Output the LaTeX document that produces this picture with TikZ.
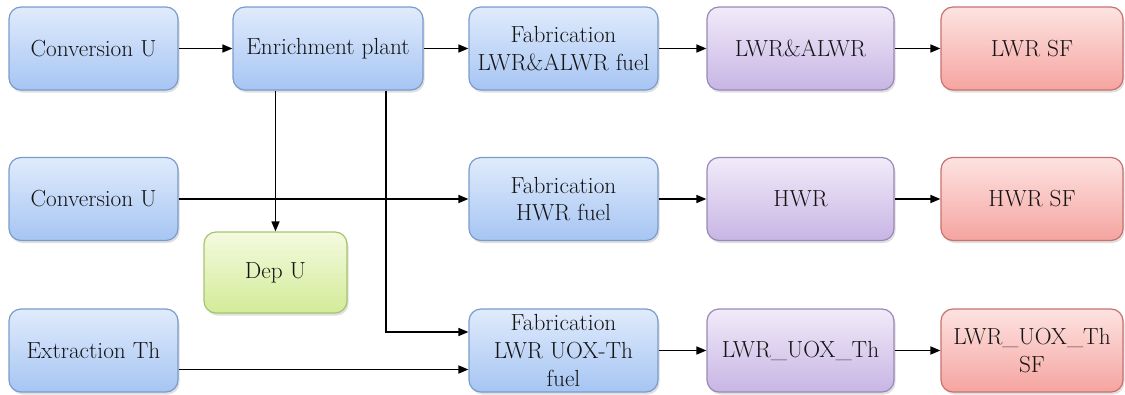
\documentclass[tikz,border=0pt]{standalone}
\usetikzlibrary{arrows.meta,shadows,calc}
\definecolor{txt}{HTML}{141414}
\definecolor{bluetop}{HTML}{E0EBFC}
\definecolor{bluebot}{HTML}{A6C5F3}
\definecolor{blueline}{HTML}{7A9CCB}
\definecolor{purtop}{HTML}{F1EBF9}
\definecolor{purbot}{HTML}{C7B5E4}
\definecolor{purline}{HTML}{9A88B8}
\definecolor{redtop}{HTML}{FDE3E1}
\definecolor{redbot}{HTML}{F5A4A0}
\definecolor{redline}{HTML}{C8716E}
\definecolor{grntop}{HTML}{F4FADF}
\definecolor{grnbot}{HTML}{D3EB98}
\definecolor{grnline}{HTML}{A7C46C}
\tikzset{
  box/.style={draw, line width=1.2pt, rounded corners=12pt, align=center,
    text=txt, font=\rmfamily\fontsize{23.3}{27.8}\selectfont, minimum height=83pt,
    inner sep=1pt,
    drop shadow={opacity=0.25, shadow xshift=1.5pt, shadow yshift=-2.5pt}},
  bluebox/.style={box, draw=blueline, top color=bluetop, bottom color=bluebot},
  purbox/.style={box, draw=purline, top color=purtop, bottom color=purbot},
  redbox/.style={box, draw=redline, top color=redtop, bottom color=redbot},
  grnbox/.style={box, draw=grnline, top color=grntop, bottom color=grnbot},
  flow/.style={line width=1.6pt, draw=black, -{Triangle[length=10pt,width=8pt]}},
}
\begin{document}
\begin{tikzpicture}[x=1pt,y=-1pt]
\useasboundingbox (0,0) rectangle (1125,394);
% row 1
\node[bluebox, minimum width=169pt] (cu1) at (93.5,48.5) {Conversion U};
\node[bluebox, minimum width=190pt] (enr) at (328,48.5) {Enrichment plant};
\node[bluebox, minimum width=189pt] (fab1) at (563.5,48.5) {Fabrication\\LWR\&ALWR fuel};
\node[purbox, minimum width=187pt] (lwr) at (800.5,48.5) {LWR\&ALWR};
\node[redbox, minimum width=182pt] (lwrsf) at (1032,48.5) {LWR SF};
% row 2
\node[bluebox, minimum width=169pt] (cu2) at (93.5,199) {Conversion U};
\node[bluebox, minimum width=189pt] (fab2) at (563.5,199) {Fabrication\\HWR fuel};
\node[purbox, minimum width=187pt] (hwr) at (800.5,199) {HWR};
\node[redbox, minimum width=182pt] (hwrsf) at (1032,199) {HWR SF};
% dep U
\node[grnbox, minimum width=143pt, minimum height=81pt] (dep) at (275.5,272.5) {Dep U};
% row 3
\node[bluebox, minimum width=169pt] (ext) at (93.5,350.5) {Extraction Th};
\node[bluebox, minimum width=189pt] (fab3) at (563.5,350.5) {Fabrication\\LWR UOX-Th\\fuel};
\node[purbox, minimum width=187pt] (luth) at (800.5,350.5) {LWR\_UOX\_Th};
\node[redbox, minimum width=182pt] (luthsf) at (1032,350.5) {LWR\_UOX\_Th\\SF};
% connectors
\draw[flow] (cu1) -- (enr);
\draw[flow] (enr) -- (fab1);
\draw[flow] (fab1) -- (lwr);
\draw[flow] (lwr) -- (lwrsf);
\draw[flow] (cu2) -- (fab2);
\draw[flow] (fab2) -- (hwr);
\draw[flow] (hwr) -- (hwrsf);
\draw[flow] (fab3) -- (luth);
\draw[flow] (luth) -- (luthsf);
\draw[flow] (dep.north |- enr.south) -- (dep.north);
\coordinate (tap) at ($(enr.south)+(58,0)$);
\draw[flow] (tap) |- ($(fab3.west)+(0,-18.5)$);
\draw[flow] ($(ext.east)+(0,19)$) -- ($(fab3.west)+(0,19)$);
\end{tikzpicture}
\end{document}
